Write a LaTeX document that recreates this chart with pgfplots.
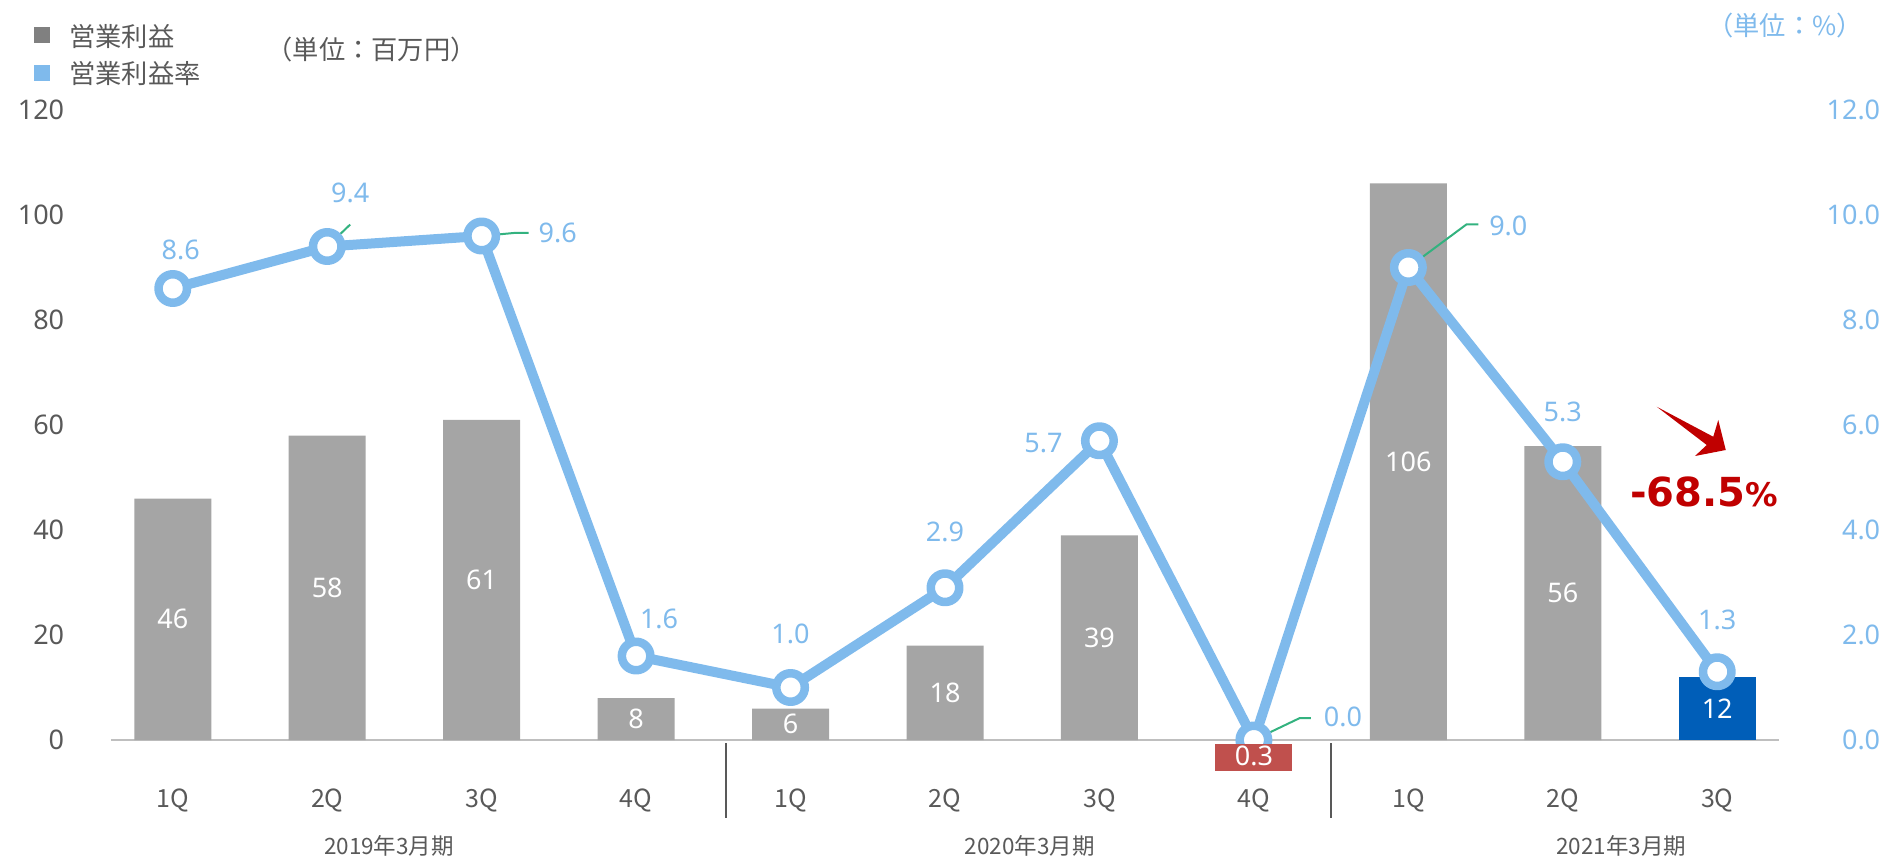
\documentclass[border=0pt]{standalone}
\usepackage{pgfplots}
\pgfplotsset{compat=1.18}
\usepackage{pgfplotstable}
\usepackage{fontspec}
\setmainfont{Noto Sans}
\newfontfamily\jp{Noto Sans CJK JP}
\newfontfamily\dv{DejaVu Sans}
\definecolor{bargray}{HTML}{A5A5A5}
\definecolor{lineblue}{HTML}{7FBAEC}
\definecolor{txtgray}{HTML}{595959}
\definecolor{barblue}{HTML}{005EB8}
\definecolor{barred}{HTML}{C0504D}
\definecolor{leader}{HTML}{33B27F}
\definecolor{arrowred}{HTML}{C00000}
\definecolor{axgray}{HTML}{BFBFBF}
\definecolor{leggray}{HTML}{808080}

\pgfplotstableread{
x y
0 46
1 58
2 61
3 8
4 6
5 18
6 39
8 106
9 56
}\profit

\pgfplotstableread{
x y
10 12
}\profitlast

% loss bar of 2020/4Q (label 0.3), drawn as in the reference below the axis
\pgfplotstableread{
x gap y mid lab
7 -0.76 -5.14 -2.95 0.3
}\loss

\pgfplotstableread{
x y lab dx dy
0 8.6 8.6 3.2 15.6
1 9.4 9.4 9.2 21.6
2 9.6 9.6 30.4 1.2
3 1.6 1.6 9.2 14.8
4 1.0 1.0 0 21.6
5 2.9 2.9 0 22.4
6 5.7 5.7 -22.4 -0.8
7 0.0 0.0 35.6 9.2
8 9.0 9.0 40 16.8
9 5.3 5.3 0 20
10 1.3 1.3 0 20.8
}\rate

\newcommand{\nf}{\fontsize{10.8}{13}\selectfont}

\begin{document}
\begin{tikzpicture}
\useasboundingbox (-44.4pt,-46.8pt) rectangle (710.4pt,296pt);
\begin{axis}[
  at={(0pt,0pt)}, anchor=south west,
  scale only axis, width=667.2pt, height=252pt,
  xmin=-0.4, xmax=10.4, ymin=0, ymax=120,
  axis x line*=bottom, axis y line*=left,
  y axis line style={draw=none},
  x axis line style={axgray, line width=0.8pt},
  xtick={0,...,10},
  xticklabels={1Q,2Q,3Q,4Q,1Q,2Q,3Q,4Q,1Q,2Q,3Q},
  xticklabel style={font=\jp\fontsize{10}{12}\selectfont, text=txtgray, anchor=center, yshift=-24pt},
  ytick={0,20,...,120},
  yticklabels={0,20,40,60,80,100,120},
  yticklabel style={font=\nf, text=txtgray, anchor=east, xshift=-15.2pt},
  /pgf/number format/assume math mode=true,
  major tick length=0pt,
  ybar, bar width=30.8pt, bar shift=0pt,
  clip=false,
]
\addplot[fill=bargray, draw=none, bar shift=0pt,
  nodes near coords, point meta=explicit symbolic,
  visualization depends on=rawy\as\rawy,
  every node near coord/.append style={font=\nf, text=white, anchor=center, yshift=-\rawy*1.05pt}]
  table[x=x,y=y,meta=y]{\profit};
\addplot[fill=barblue, draw=none, bar shift=0pt,
  nodes near coords, point meta=explicit symbolic,
  visualization depends on=rawy\as\rawy,
  every node near coord/.append style={font=\nf, text=white, anchor=center, yshift=-\rawy*1.05pt}]
  table[x=x,y=y,meta=y]{\profitlast};
% group labels and separators
\node[font=\jp\fontsize{9}{11}\selectfont, text=txtgray] at ([yshift=-42.4pt]axis cs:1.4,0) {2019年3月期};
\node[font=\jp\fontsize{9}{11}\selectfont, text=txtgray] at ([yshift=-42.4pt]axis cs:5.55,0) {2020年3月期};
\node[font=\jp\fontsize{9}{11}\selectfont, text=txtgray] at ([yshift=-42.4pt]axis cs:9.38,0) {2021年3月期};
\draw[txtgray, line width=0.8pt] ([yshift=-1.2pt]axis cs:3.58,0) -- ([yshift=-31.2pt]axis cs:3.58,0);
\draw[txtgray, line width=0.8pt] ([yshift=-1.2pt]axis cs:7.5,0) -- ([yshift=-31.2pt]axis cs:7.5,0);
\end{axis}

\begin{axis}[
  at={(0pt,0pt)}, anchor=south west,
  scale only axis, width=667.2pt, height=252pt,
  xmin=-0.4, xmax=10.4, ymin=0, ymax=12,
  axis x line=none, axis y line*=right,
  y axis line style={draw=none},
  ytick={0,2,...,12},
  yticklabels={0.0,2.0,4.0,6.0,8.0,10.0,12.0},
  yticklabel style={font=\nf, text=lineblue, anchor=east, xshift=44pt},
  /pgf/number format/assume math mode=true,
  major tick length=0pt,
  clip=false,
]
\addplot[lineblue, line width=4pt, line join=round,
  mark=*, mark size=5.7pt, mark options={fill=white, draw=lineblue, line width=3.4pt},
  nodes near coords, point meta=explicit symbolic,
  visualization depends on={\thisrow{dx}\as\dx},
  visualization depends on={\thisrow{dy}\as\dy},
  every node near coord/.append style={font=\nf, text=lineblue, anchor=center, xshift=\dx*1pt, yshift=\dy*1pt}]
  table[x=x,y=y,meta=lab]{\rate};
\draw[leader, line width=0.8pt] (axis cs:1,9.4) -- ++(9.2pt,8.8pt);
\draw[leader, line width=0.8pt] (axis cs:2,9.6) -- ++(12.8pt,1.2pt) -- ++(6pt,0pt);
\draw[leader, line width=0.8pt] (axis cs:7,0) -- ++(18.4pt,8.8pt) -- ++(4.4pt,0pt);
\draw[leader, line width=0.8pt] (axis cs:8,9.0) -- ++(23.2pt,17.2pt) -- ++(4.8pt,0pt);
\end{axis}

% loss bar on top of the line marker, as in the reference
\begin{axis}[
  at={(0pt,0pt)}, anchor=south west,
  scale only axis, width=667.2pt, height=252pt,
  xmin=-0.4, xmax=10.4, ymin=0, ymax=120,
  hide axis, clip=false,
  ybar stacked, bar width=30.8pt, bar shift=0pt,
]
\addplot[fill=none, draw=none, bar shift=0pt] table[x=x,y=gap]{\loss};
\addplot[fill=barred, draw=none, bar shift=0pt] table[x=x,y=y]{\loss};
\end{axis}

% its label
\begin{axis}[
  at={(0pt,0pt)}, anchor=south west,
  scale only axis, width=667.2pt, height=252pt,
  xmin=-0.4, xmax=10.4, ymin=0, ymax=120,
  hide axis, clip=false,
]
\addplot[draw=none, mark=none,
  nodes near coords, point meta=explicit symbolic,
  every node near coord/.append style={font=\nf, text=white, anchor=center}]
  table[x=x,y=mid,meta=lab]{\loss};
\end{axis}

% legend and unit notes
\fill[leggray] (-27.6pt,282pt) +(-3.2pt,-3.2pt) rectangle +(3.2pt,3.2pt);
\node[anchor=west, inner sep=0pt, font=\jp\fontsize{10.5}{12}\selectfont, text=txtgray] at (-16.8pt,281.2pt) {営業利益};
\fill[lineblue] (-27.6pt,266.8pt) +(-3.2pt,-3.2pt) rectangle +(3.2pt,3.2pt);
\node[anchor=west, inner sep=0pt, font=\jp\fontsize{10.5}{12}\selectfont, text=txtgray] at (-16.8pt,266.4pt) {営業利益率};
\node[anchor=west, inner sep=0pt, font=\jp\fontsize{10.5}{12}\selectfont, text=txtgray] at (62pt,276pt) {（単位：百万円）};
\node[inner sep=0pt, font=\jp\fontsize{10.5}{12}\selectfont, text=lineblue] at (669.6pt,285.6pt) {（単位：\%）};

% arrow and change
\fill[arrowred] (618.3pt,133.3pt) -- (640.9pt,121.3pt) -- (642.9pt,128pt) -- (645.9pt,116pt) -- (633.6pt,113.6pt) -- (638.3pt,118pt) -- cycle;
\node[text=arrowred, inner sep=0pt] at (637.2pt,99.2pt) {\dv\bfseries\fontsize{16}{18}\selectfont -68.5\fontsize{13}{15}\selectfont\%};
\end{tikzpicture}
\end{document}
